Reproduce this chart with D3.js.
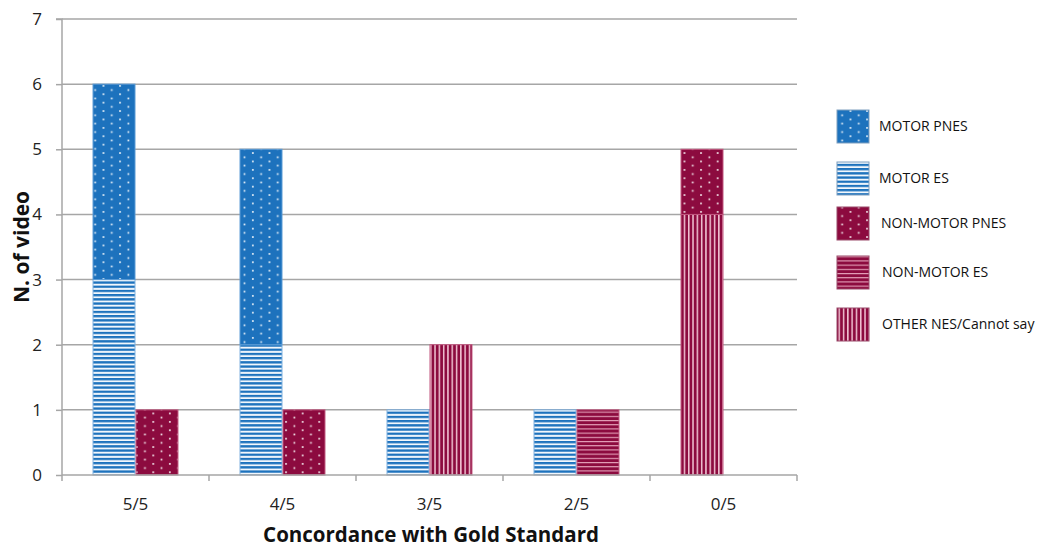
<!DOCTYPE html>
<html><head><meta charset="utf-8">
<script src="https://cdn.jsdelivr.net/npm/d3@7"></script>
<style>body{margin:0;background:#fff;}svg{display:block;font-family:"Open Sans","Liberation Sans",sans-serif;}</style>
</head><body><svg id="c" width="1037" height="547"></svg>
<script>
const categories = ["5/5","4/5","3/5","2/5","0/5"];
const yTicks = [0,1,2,3,4,5,6,7];
const seriesNames = ["MOTOR PNES","MOTOR ES","NON-MOTOR PNES","NON-MOTOR ES","OTHER NES/Cannot say"];
const motorPNES    = [3,3,0,0,0];
const motorES      = [3,2,1,1,0];
const nonMotorPNES = [1,1,0,0,1];
const nonMotorES   = [0,0,0,1,0];
const otherNES     = [0,0,2,0,4];
const nonMotorSlot = ["right","right","right","right","left"];

const svg = d3.select("#c");
const m={l:62,t:19};
const x = d3.scaleBand().domain(categories).range([m.l,797]).padding(0);
const slot = d3.scaleBand().domain(["left","right"]).range([0,x.bandwidth()]).paddingInner(0).paddingOuter(0.71);
const y = d3.scaleLinear().domain([0,7]).range([475,19]);

const BLUE="#1d72bd", MAROON="#8c0b3f";
const defs = svg.append("defs");
function dots(id,base){
  const p=defs.append("pattern").attr("id",id).attr("patternUnits","userSpaceOnUse").attr("width",16.6).attr("height",8.4);
  p.append("rect").attr("width",16.6).attr("height",8.4).attr("fill",base);
  p.append("rect").attr("x",3).attr("y",1).attr("width",1.7).attr("height",1.7).attr("fill","#fff").attr("opacity",0.9);
  p.append("rect").attr("x",11.3).attr("y",5.2).attr("width",1.7).attr("height",1.7).attr("fill","#fff").attr("opacity",0.9);
}
function hstripes(id,base,line,period,lw){
  const p=defs.append("pattern").attr("id",id).attr("patternUnits","userSpaceOnUse").attr("width",8).attr("height",period);
  p.append("rect").attr("width",8).attr("height",period).attr("fill",base);
  p.append("rect").attr("y",0).attr("width",8).attr("height",lw).attr("fill",line);
}
function vstripes(id,base,line,period,lw){
  const p=defs.append("pattern").attr("id",id).attr("patternUnits","userSpaceOnUse").attr("width",period).attr("height",8);
  p.append("rect").attr("width",period).attr("height",8).attr("fill",base);
  p.append("rect").attr("x",0).attr("width",lw).attr("height",8).attr("fill",line);
}
dots("pMotorPNES",BLUE);
hstripes("pMotorES","#f2f7fc",BLUE,4.2,2.3);
dots("pNonMotorPNES",MAROON);
hstripes("pNonMotorES",MAROON,"#e7a6bd",4.2,1.1);
vstripes("pOther",MAROON,"#f0c3d3",4.3,1.5);

const fills=["url(#pMotorPNES)","url(#pMotorES)","url(#pNonMotorPNES)","url(#pNonMotorES)","url(#pOther)"];
const strokes=["#5b9bd5","#7fb2e0","#c2577f","#c2577f","#c2577f"];

svg.append("g").selectAll("line").data(yTicks.filter(d=>d>0)).join("line")
  .attr("x1",m.l).attr("x2",797).attr("y1",d=>y(d)).attr("y2",d=>y(d))
  .attr("stroke","#a6a6a6").attr("stroke-width",1.5);

const stacks=[];
categories.forEach((c,i)=>{
  let base=0;
  [[1,motorES[i]],[0,motorPNES[i]]].forEach(([s,v])=>{ if(v>0){stacks.push({c,slot:"left",s,y0:base,y1:base+v});} base+=v;});
  base=0;
  [[4,otherNES[i]],[3,nonMotorES[i]],[2,nonMotorPNES[i]]].forEach(([s,v])=>{ if(v>0){stacks.push({c,slot:nonMotorSlot[i],s,y0:base,y1:base+v});} base+=v;});
});
svg.append("g").selectAll("rect").data(stacks).join("rect")
  .attr("x",d=>x(d.c)+slot(d.slot)+0.5).attr("width",slot.bandwidth()-1)
  .attr("y",d=>y(d.y1)).attr("height",d=>y(d.y0)-y(d.y1))
  .attr("fill",d=>fills[d.s]).attr("stroke",d=>strokes[d.s]).attr("stroke-width",1);

const yAxis = d3.axisLeft(y).tickValues(yTicks).tickSize(6).tickPadding(14).tickFormat(d3.format("d"));
const gy=svg.append("g").attr("transform",`translate(${m.l},0)`).call(yAxis);
gy.select(".domain").attr("stroke","#a6a6a6").attr("stroke-width",1.5).attr("d",`M-6,19H0V475`);
gy.selectAll(".tick line").attr("stroke","#a6a6a6").attr("stroke-width",1.5);
gy.selectAll(".tick text").attr("font-size",17).attr("fill","#222").style("font-family","'Open Sans',sans-serif");

const gx=svg.append("g").attr("transform",`translate(0,475)`);
gx.append("line").attr("x1",m.l).attr("x2",797).attr("stroke","#a6a6a6").attr("stroke-width",1.5);
const bounds=categories.map(c=>x(c)).concat([x(categories[categories.length-1])+x.bandwidth()]);
gx.selectAll("line.t").data(bounds).join("line").attr("class","t")
  .attr("x1",d=>d).attr("x2",d=>d).attr("y1",0).attr("y2",6).attr("stroke","#a6a6a6").attr("stroke-width",1.5);
gx.selectAll("text").data(categories).join("text")
  .attr("x",d=>x(d)+x.bandwidth()/2).attr("y",35).attr("text-anchor","middle")
  .attr("font-size",17).attr("fill","#222").text(d=>d);

svg.append("text").attr("x",431).attr("y",542).attr("text-anchor","middle")
  .attr("font-size",20.5).attr("font-weight","bold").attr("fill","#111").text("Concordance with Gold Standard");
svg.append("text").attr("transform","translate(29,247) rotate(-90)").attr("text-anchor","middle")
  .attr("font-size",21).attr("font-weight","bold").attr("fill","#111").text("N. of video");

const legY=[110,162,207,256,308];
const legTX=[879,879,881,882,882];
const lg=svg.append("g");
seriesNames.forEach((n,i)=>{
  lg.append("rect").attr("x",837).attr("y",legY[i]).attr("width",32).attr("height",33)
    .attr("fill",fills[i]).attr("stroke",i<2?"#7f9fbf":"#9a4a6a").attr("stroke-width",1);
  lg.append("text").attr("x",legTX[i]).attr("y",legY[i]+21).attr("font-size",14).attr("fill","#111").text(n);
});
</script></body></html>
